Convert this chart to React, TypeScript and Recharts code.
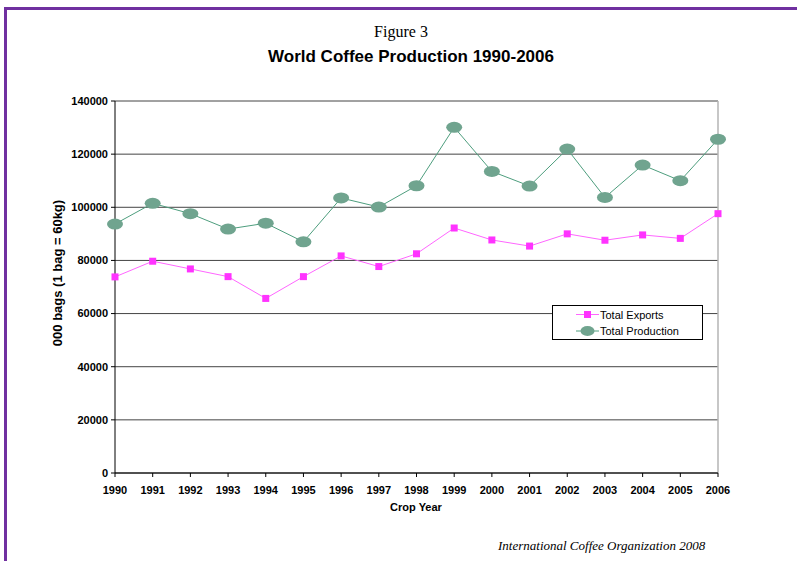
import React from 'react';
import { LineChart, Line, XAxis, YAxis, CartesianGrid, ReferenceLine, Legend } from 'recharts';

const years = ['1990', '1991', '1992', '1993', '1994', '1995', '1996', '1997', '1998', '1999', '2000', '2001', '2002', '2003', '2004', '2005', '2006'];
const totalExports = [73800, 79700, 76800, 73900, 65700, 73900, 81700, 77700, 82500, 92200, 87700, 85400, 90000, 87600, 89600, 88300, 97600];
const totalProduction = [93700, 101500, 97600, 91800, 94000, 87000, 103500, 100100, 108100, 130100, 113500, 108000, 121900, 103700, 115900, 110000, 125600];
const yTicks = [0, 20000, 40000, 60000, 80000, 100000, 120000, 140000];

const data = years.map((y, i) => ({ year: y, exports: totalExports[i], production: totalProduction[i] }));

const PINK_LINE = '#FF66FF';
const PINK_MARK = '#FF33FF';
const GREEN_LINE = '#4E9E7E';
const GREEN_MARK = '#70A48F';

const SquareDot = (props: any) => {
  const { cx, cy, index } = props;
  if (cx == null || cy == null) return null;
  return <rect key={`s${index}`} x={cx - 3.5} y={cy - 3.5} width={7} height={7} fill={PINK_MARK} />;
};

const EllipseDot = (props: any) => {
  const { cx, cy, index } = props;
  if (cx == null || cy == null) return null;
  return <ellipse key={`e${index}`} cx={cx} cy={cy} rx={8} ry={5.5} fill={GREEN_MARK} />;
};

const LegendBox = () => (
  <div style={{ width: 151, height: 35, border: '1px solid #000', background: '#fff', boxSizing: 'border-box', fontFamily: '"Liberation Sans", Arial, sans-serif', fontSize: 11, color: '#000' }}>
    <div style={{ display: 'flex', alignItems: 'center', height: 17, marginTop: 0 }}>
      <svg width={46} height={17} style={{ display: 'block' }}>
        <line x1={23} y1={8.5} x2={46} y2={8.5} stroke={PINK_LINE} strokeWidth={1} />
        <rect x={31} y={5} width={7} height={7} fill={PINK_MARK} />
      </svg>
      <span style={{ marginLeft: 1 }}>Total Exports</span>
    </div>
    <div style={{ display: 'flex', alignItems: 'center', height: 16 }}>
      <svg width={46} height={16} style={{ display: 'block' }}>
        <line x1={23} y1={8} x2={46} y2={8} stroke={GREEN_LINE} strokeWidth={1} />
        <ellipse cx={34.5} cy={8} rx={7} ry={5} fill={GREEN_MARK} />
      </svg>
      <span style={{ marginLeft: 1 }}>Total Production</span>
    </div>
  </div>
);

export default function App() {
  const sans = '"Liberation Sans", Arial, sans-serif';
  const serif = '"Liberation Serif", "Times New Roman", serif';
  return (
    <div style={{ position: 'absolute', left: 0, top: 0, width: 797, height: 561, background: '#fff', overflow: 'hidden' }}>
      <div style={{ position: 'absolute', left: 4, top: 7, width: 820, height: 600, borderTop: '3px solid #7030A0', borderLeft: '3px solid #7030A0' }} />
      <div style={{ position: 'absolute', left: 0, width: 802, top: 22, textAlign: 'center', fontFamily: serif, fontSize: 16, lineHeight: '20px' }}>
        Figure 3
      </div>
      <div style={{ position: 'absolute', left: 0, width: 822, top: 46, textAlign: 'center', fontFamily: sans, fontSize: 17, fontWeight: 'bold', lineHeight: '21px' }}>
        World Coffee Production 1990-2006
      </div>
      <div style={{ position: 'absolute', left: 0, top: 0 }}>
        <LineChart width={797} height={561} data={data} margin={{ top: 101, right: 79, bottom: 58, left: 55 }}>
          <CartesianGrid horizontal={true} vertical={false} stroke="#444" strokeWidth={1} />
          <ReferenceLine x="2006" stroke="#b5b5b5" strokeWidth={1.5} />
          <XAxis
            dataKey="year"
            height={30}
            stroke="#000"
            tickSize={4}
            tickMargin={9}
            interval={0}
            tick={{ fill: '#000', fontFamily: sans, fontSize: 11, fontWeight: 'bold' }}
          />
          <YAxis
            width={60}
            domain={[0, 140000]}
            ticks={yTicks}
            stroke="#000"
            tickSize={4}
            tickMargin={3}
            interval={0}
            tick={{ fill: '#000', fontFamily: sans, fontSize: 11, fontWeight: 'bold' }}
          />
          <Line
            dataKey="exports"
            name="Total Exports"
            stroke={PINK_LINE}
            strokeWidth={1}
            dot={SquareDot}
            activeDot={false}
            isAnimationActive={false}
          />
          <Line
            dataKey="production"
            name="Total Production"
            stroke={GREEN_LINE}
            strokeWidth={1}
            dot={EllipseDot}
            activeDot={false}
            isAnimationActive={false}
          />
          <Legend
            layout="vertical"
            align="center"
            verticalAlign="middle"
            content={() => <LegendBox />}
            wrapperStyle={{ left: 552, top: 305, width: 151, height: 35 }}
          />
        </LineChart>
      </div>
      <div style={{ position: 'absolute', left: 58, top: 273, width: 0, height: 0 }}>
        <div style={{ position: 'absolute', left: -100, top: -8, width: 200, textAlign: 'center', transform: 'rotate(-90deg)', fontFamily: sans, fontSize: 13, fontWeight: 'bold', lineHeight: '16px', whiteSpace: 'nowrap' }}>
          000 bags (1 bag = 60kg)
        </div>
      </div>
      <div style={{ position: 'absolute', left: 316, top: 501, width: 200, textAlign: 'center', fontFamily: sans, fontSize: 11, fontWeight: 'bold', lineHeight: '13px' }}>
        Crop Year
      </div>
      <div style={{ position: 'absolute', left: 498, top: 538, fontFamily: serif, fontStyle: 'italic', fontSize: 13, lineHeight: '16px', whiteSpace: 'nowrap' }}>
        International Coffee Organization 2008
      </div>
    </div>
  );
}
